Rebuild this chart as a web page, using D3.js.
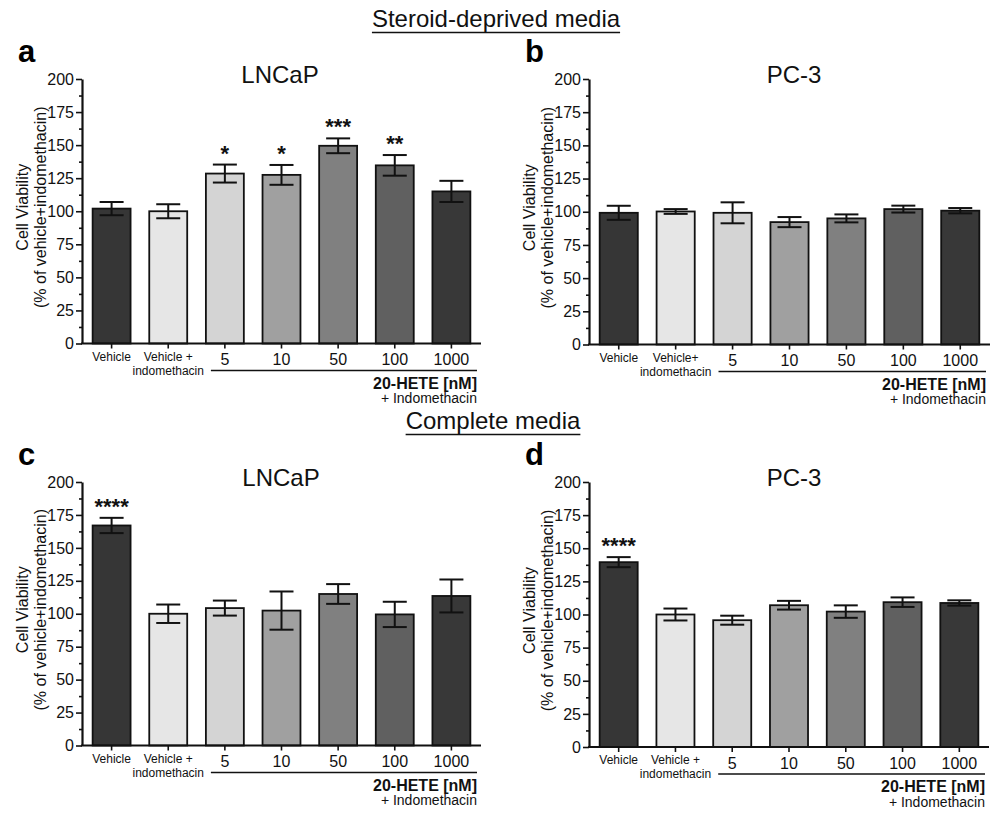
<!DOCTYPE html>
<html>
<head>
<meta charset="utf-8">
<script src="https://cdn.jsdelivr.net/npm/d3@7"></script>
<style>
  body { margin: 0; background: #fff; }
  svg { display: block; font-family: "Liberation Sans", Arial, sans-serif; }
</style>
</head>
<body>
<div id="chart"></div>
<script>
// categories on the x axis
var categories = ['Vehicle', 'Vehicle + indomethacin', '5', '10', '50', '100', '1000'];
var yTicks = [0, 25, 50, 75, 100, 125, 150, 175, 200];
var yMinorTicks = [12.5, 37.5, 62.5, 87.5, 112.5, 137.5, 162.5, 187.5];

// a: LNCaP, steroid-deprived
var aMeans = [102, 100, 128.5, 127.5, 149.5, 134.7, 115];
var aErrors = [5, 5.3, 6.8, 7.5, 5.6, 7.8, 8];
var aStars = ['', '', '*', '*', '***', '**', ''];
// b: PC-3, steroid-deprived
var bMeans = [99.2, 100.2, 99.2, 92.2, 95, 102, 100.8];
var bErrors = [5.3, 1.8, 7.9, 3.8, 3, 2.6, 2];
var bStars = ['', '', '', '', '', '', ''];
// c: LNCaP, complete
var cMeans = [167, 100, 104.3, 102.4, 115, 99.5, 113.5];
var cErrors = [5.8, 7, 5.7, 14.5, 7.5, 9.6, 12.5];
var cStars = ['****', '', '', '', '', '', ''];
// d: PC-3, complete
var dMeans = [139.5, 100, 95.7, 107, 102.2, 109.3, 108.7];
var dErrors = [3.8, 4.5, 3.4, 3.3, 4.7, 3.6, 2];
var dStars = ['****', '', '', '', '', '', ''];

var barColors = ['#363636', '#e6e6e6', '#d4d4d4', '#a0a0a0', '#808080', '#606060', '#383838'];

var panels = [
    {letter: 'a', title: 'LNCaP', means: aMeans, errors: aErrors, stars: aStars, vehIndo: 'Vehicle +',
        left: 82, right: 480, top: 79, bottom: 343.5, titleX: 280},
    {letter: 'b', title: 'PC-3', means: bMeans, errors: bErrors, stars: bStars, vehIndo: 'Vehicle+',
        left: 589, right: 989, top: 79, bottom: 344.5, titleX: 794},
    {letter: 'c', title: 'LNCaP', means: cMeans, errors: cErrors, stars: cStars, vehIndo: 'Vehicle +',
        left: 82, right: 480, top: 482, bottom: 745.5, titleX: 281},
    {letter: 'd', title: 'PC-3', means: dMeans, errors: dErrors, stars: dStars, vehIndo: 'Vehicle +',
        left: 589, right: 988, top: 482, bottom: 747, titleX: 794}
];

var svg = d3.select('#chart')
    .append('svg')
    .attr('width', 1000)
    .attr('height', 816);

// section headers
function header(text, cx, baseline) {
    var t = svg.append('text')
        .attr('x', cx)
        .attr('y', baseline)
        .attr('text-anchor', 'middle')
        .attr('font-size', 24)
        .attr('fill', '#111')
        .text(text);
    var w = t.node().getComputedTextLength();
    svg.append('line')
        .attr('x1', cx - w / 2).attr('x2', cx + w / 2)
        .attr('y1', baseline + 5.5).attr('y2', baseline + 5.5)
        .attr('stroke', '#111')
        .attr('stroke-width', 1.6);
}
header('Steroid-deprived media', 496, 27);
header('Complete media', 493, 429);

panels.forEach(function(p) {
    var g = svg.append('g');

    var x = d3.scaleBand()
        .domain(categories)
        .range([p.left + 1, p.right])
        .paddingInner(0.33)
        .paddingOuter(0.17);

    var y = d3.scaleLinear()
        .domain([0, 200])
        .range([p.bottom, p.top]);

    // panel letter
    g.append('text')
        .attr('x', p.left - 64)
        .attr('y', p.top - 17)
        .attr('font-size', 31)
        .attr('font-weight', 'bold')
        .attr('fill', '#000')
        .text(p.letter);

    // panel title
    g.append('text')
        .attr('x', p.titleX)
        .attr('y', p.top + 3.5)
        .attr('text-anchor', 'middle')
        .attr('font-size', 24)
        .attr('fill', '#111')
        .text(p.title);

    // bars
    g.selectAll('rect.bar')
        .data(p.means)
        .enter()
        .append('rect')
        .attr('class', 'bar')
        .attr('x', function(d, i) { return x(categories[i]); })
        .attr('width', x.bandwidth())
        .attr('y', function(d) { return y(d); })
        .attr('height', function(d) { return y(0) - y(d); })
        .attr('fill', function(d, i) { return barColors[i]; })
        .attr('stroke', '#111')
        .attr('stroke-width', 1.8);

    // error bars
    var cap = 12;
    p.means.forEach(function(m, i) {
        var cx = x(categories[i]) + x.bandwidth() / 2;
        var hi = y(m + p.errors[i]), lo = y(m - p.errors[i]);
        var eb = g.append('g')
            .attr('stroke', '#111')
            .attr('stroke-width', 2);
        eb.append('line').attr('x1', cx).attr('x2', cx).attr('y1', hi).attr('y2', lo);
        eb.append('line').attr('x1', cx - cap).attr('x2', cx + cap).attr('y1', hi).attr('y2', hi);
        eb.append('line').attr('x1', cx - cap).attr('x2', cx + cap).attr('y1', lo).attr('y2', lo);
        if (p.stars[i]) {
            g.append('text')
                .attr('x', cx)
                .attr('y', hi - 4)
                .attr('text-anchor', 'middle')
                .attr('font-size', 22)
                .attr('font-weight', 'bold')
                .attr('fill', '#111')
                .text(p.stars[i]);
        }
    });

    //y axis
    var yAxis = d3.axisLeft(y)
        .tickValues(yTicks)
        .tickSizeInner(6)
        .tickSizeOuter(0)
        .tickPadding(2);
    var ya = g.append('g')
        .attr('transform', 'translate(' + p.left + ',0)')
        .call(yAxis);
    ya.select('.domain').attr('stroke', '#111').attr('stroke-width', 2.2);
    ya.selectAll('.tick line').attr('stroke', '#111').attr('stroke-width', 1.6);
    ya.selectAll('.tick text')
        .attr('font-size', 16)
        .attr('font-family', '"Liberation Sans", Arial, sans-serif')
        .attr('fill', '#111');

    var yMinor = d3.axisLeft(y)
        .tickValues(yMinorTicks)
        .tickSizeInner(3)
        .tickSizeOuter(0)
        .tickFormat('');
    var ym = g.append('g')
        .attr('transform', 'translate(' + p.left + ',0)')
        .call(yMinor);
    ym.select('.domain').remove();
    ym.selectAll('.tick line').attr('stroke', '#111').attr('stroke-width', 1.6);

    // y axis title
    var cy = (p.top + p.bottom) / 2 - 4;
    g.append('text')
        .attr('transform', 'translate(' + (p.left - 54) + ',' + cy + ') rotate(-90)')
        .attr('text-anchor', 'middle')
        .attr('font-size', 16)
        .attr('fill', '#111')
        .text('Cell Viability');
    g.append('text')
        .attr('transform', 'translate(' + (p.left - 36) + ',' + cy + ') rotate(-90)')
        .attr('text-anchor', 'middle')
        .attr('font-size', 16)
        .attr('fill', '#111')
        .text('(% of vehicle+indomethacin)');

    //X Axis
    var xAxis = d3.axisBottom(x)
        .tickSizeInner(5)
        .tickSizeOuter(0)
        .tickFormat('');
    var xa = g.append('g')
        .attr('transform', 'translate(0,' + p.bottom + ')')
        .call(xAxis);
    xa.select('.domain').attr('stroke', '#111').attr('stroke-width', 2.2)
        .attr('d', 'M' + (p.left - 1) + ',0H' + (p.right + 1));
    xa.selectAll('.tick line').attr('stroke', '#111').attr('stroke-width', 1.6);

    // x labels
    var c = function(i) { return x(categories[i]) + x.bandwidth() / 2; };
    g.append('text')
        .attr('x', c(0)).attr('y', p.bottom + 17)
        .attr('text-anchor', 'middle').attr('font-size', 12).attr('fill', '#111')
        .text(categories[0]);
    g.append('text')
        .attr('x', c(1)).attr('y', p.bottom + 17)
        .attr('text-anchor', 'middle').attr('font-size', 12).attr('fill', '#111')
        .text(p.vehIndo);
    g.append('text')
        .attr('x', c(1)).attr('y', p.bottom + 31)
        .attr('text-anchor', 'middle').attr('font-size', 12).attr('fill', '#111')
        .text('indomethacin');
    for (var i = 2; i < categories.length; i++) {
        g.append('text')
            .attr('x', c(i)).attr('y', p.bottom + 21.5)
            .attr('text-anchor', 'middle').attr('font-size', 16).attr('fill', '#111')
            .text(categories[i]);
    }

    // 20-HETE bracket line
    g.append('line')
        .attr('x1', x(categories[2]) + 5).attr('x2', p.right - 3)
        .attr('y1', p.bottom + 27).attr('y2', p.bottom + 27)
        .attr('stroke', '#111').attr('stroke-width', 1.4);
    g.append('text')
        .attr('x', p.right - 3).attr('y', p.bottom + 45)
        .attr('text-anchor', 'end').attr('font-size', 16).attr('font-weight', 'bold').attr('fill', '#111')
        .text('20-HETE [nM]');
    g.append('text')
        .attr('x', p.right - 3).attr('y', p.bottom + 59.5)
        .attr('text-anchor', 'end').attr('font-size', 14).attr('fill', '#111')
        .text('+ Indomethacin');
});
</script>
</body>
</html>
